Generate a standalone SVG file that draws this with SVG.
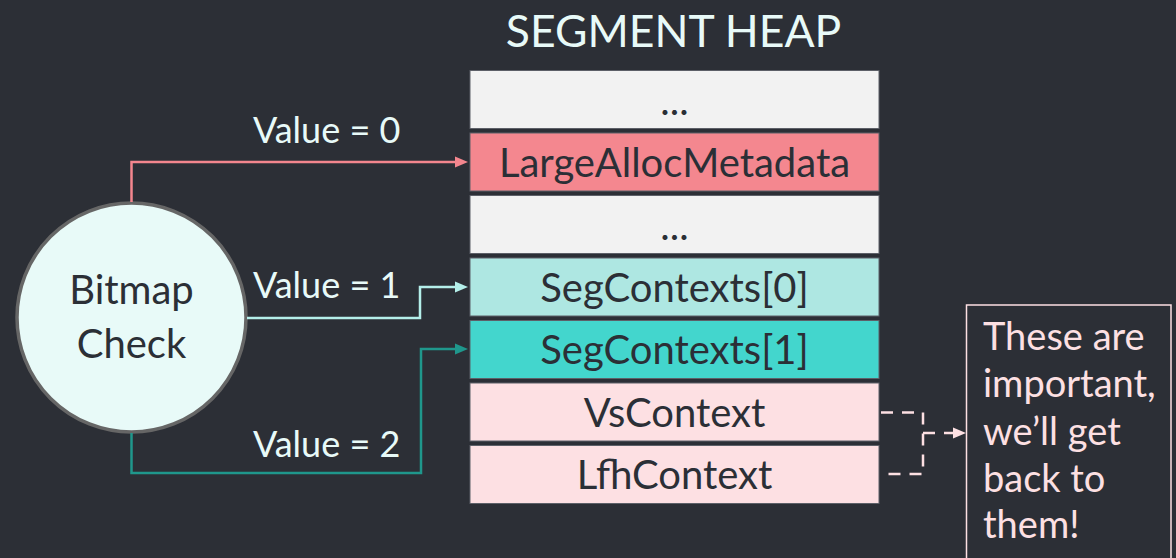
<svg xmlns="http://www.w3.org/2000/svg" width="1176" height="558" viewBox="0 0 1176 558">
  <style>
    text { font-family: Lato, "Open Sans", "Liberation Sans", sans-serif; }
    .title { font-size: 44.5px; fill: #e8faf8; text-anchor: middle; }
    .cell { stroke: #5d6068; stroke-width: 1; }
    .cell-text { font-size: 40px; fill: #2b2f36; text-anchor: middle; }
    .node-text { font-size: 40px; fill: #2b2f36; text-anchor: middle; }
    .label { font-size: 36px; fill: #e8faf8; }
    .note { font-size: 38px; fill: #fde0e3; }
    .wire { fill: none; stroke-width: 2.5; }
    .dash { fill: none; stroke: #fde0e3; stroke-width: 2.5; stroke-dasharray: 12 9; }
  </style>
  <defs>
    <marker id="arrow-red" markerUnits="userSpaceOnUse" markerWidth="14" markerHeight="12" refX="0" refY="6" orient="auto">
      <path d="M0 0.5 L13 6 L0 11.5 Z" fill="#f4868e"/>
    </marker>
    <marker id="arrow-light" markerUnits="userSpaceOnUse" markerWidth="14" markerHeight="12" refX="0" refY="6" orient="auto">
      <path d="M0 0.5 L13 6 L0 11.5 Z" fill="#b4efea"/>
    </marker>
    <marker id="arrow-teal" markerUnits="userSpaceOnUse" markerWidth="14" markerHeight="12" refX="0" refY="6" orient="auto">
      <path d="M0 0.5 L13 6 L0 11.5 Z" fill="#1f978c"/>
    </marker>
    <marker id="arrow-pink" markerUnits="userSpaceOnUse" markerWidth="14" markerHeight="12" refX="0" refY="6" orient="auto">
      <path d="M0 0.5 L13 6 L0 11.5 Z" fill="#fde0e3"/>
    </marker>
  </defs>

  <rect width="1176" height="558" fill="#2c2f36"/>

  <text class="title" x="673.5" y="46.5">SEGMENT HEAP</text>

  <!-- heap layout, top to bottom -->
  <g id="heap-gap-top">
    <rect class="cell" x="470" y="70.5" width="409" height="58" fill="#f2f2f2"/>
    <text class="cell-text" x="674.5" y="115">...</text>
  </g>
  <g id="heap-large-alloc">
    <rect class="cell" x="470" y="133" width="409" height="58" fill="#f4878f"/>
    <text class="cell-text" x="674.5" y="177">LargeAllocMetadata</text>
  </g>
  <g id="heap-gap-mid">
    <rect class="cell" x="470" y="195.5" width="409" height="58" fill="#f2f2f2"/>
    <text class="cell-text" x="674.5" y="239.5">...</text>
  </g>
  <g id="heap-seg0">
    <rect class="cell" x="470" y="258" width="409" height="58" fill="#aee7e2"/>
    <text class="cell-text" x="674.5" y="301.5">SegContexts[0]</text>
  </g>
  <g id="heap-seg1">
    <rect class="cell" x="470" y="320.5" width="409" height="58" fill="#43d6cd"/>
    <text class="cell-text" x="674.5" y="364">SegContexts[1]</text>
  </g>
  <g id="heap-vs">
    <rect class="cell" x="470" y="383" width="409" height="58" fill="#fde0e3"/>
    <text class="cell-text" x="674.5" y="426.5">VsContext</text>
  </g>
  <g id="heap-lfh">
    <rect class="cell" x="470" y="445.5" width="409" height="58" fill="#fde0e3"/>
    <text class="cell-text" x="674.5" y="488.5">LfhContext</text>
  </g>

  <!-- decision node -->
  <g id="bitmap-check">
    <circle cx="131.5" cy="317.5" r="114.5" fill="#e8faf8" stroke="#666666" stroke-width="3.5"/>
    <text class="node-text" x="131.5" y="304">Bitmap</text>
    <text class="node-text" x="131.5" y="358">Check</text>
  </g>

  <!-- callout -->
  <g id="note">
    <rect x="966.5" y="305" width="204.5" height="270" fill="none" stroke="#fde0e3" stroke-width="1.5"/>
    <text class="note" x="983" y="350">These are</text>
    <text class="note" x="983" y="396.5">important,</text>
    <text class="note" x="983" y="444.5">we’ll get</text>
    <text class="note" x="983" y="491.5">back to</text>
    <text class="note" x="983" y="538">them!</text>
  </g>

  <g id="connectors">
    <path class="wire" stroke="#f4868e" d="M131.5 202 V162 H455" marker-end="url(#arrow-red)"/>
    <path class="wire" stroke="#b4efea" d="M247 318 H420 V287 H455" marker-end="url(#arrow-light)"/>
    <path class="wire" stroke="#1f978c" d="M131.5 433 V473 H421 V349 H455" marker-end="url(#arrow-teal)"/>
    <path class="dash" d="M881 412.5 H923 V474 H881"/>
    <path class="dash" d="M923 433 H953" stroke-dasharray="0 6 16 20" marker-end="url(#arrow-pink)"/>
    <text class="label" x="253" y="143">Value = 0</text>
    <text class="label" x="253" y="298">Value = 1</text>
    <text class="label" x="253" y="457">Value = 2</text>
  </g>
</svg>
